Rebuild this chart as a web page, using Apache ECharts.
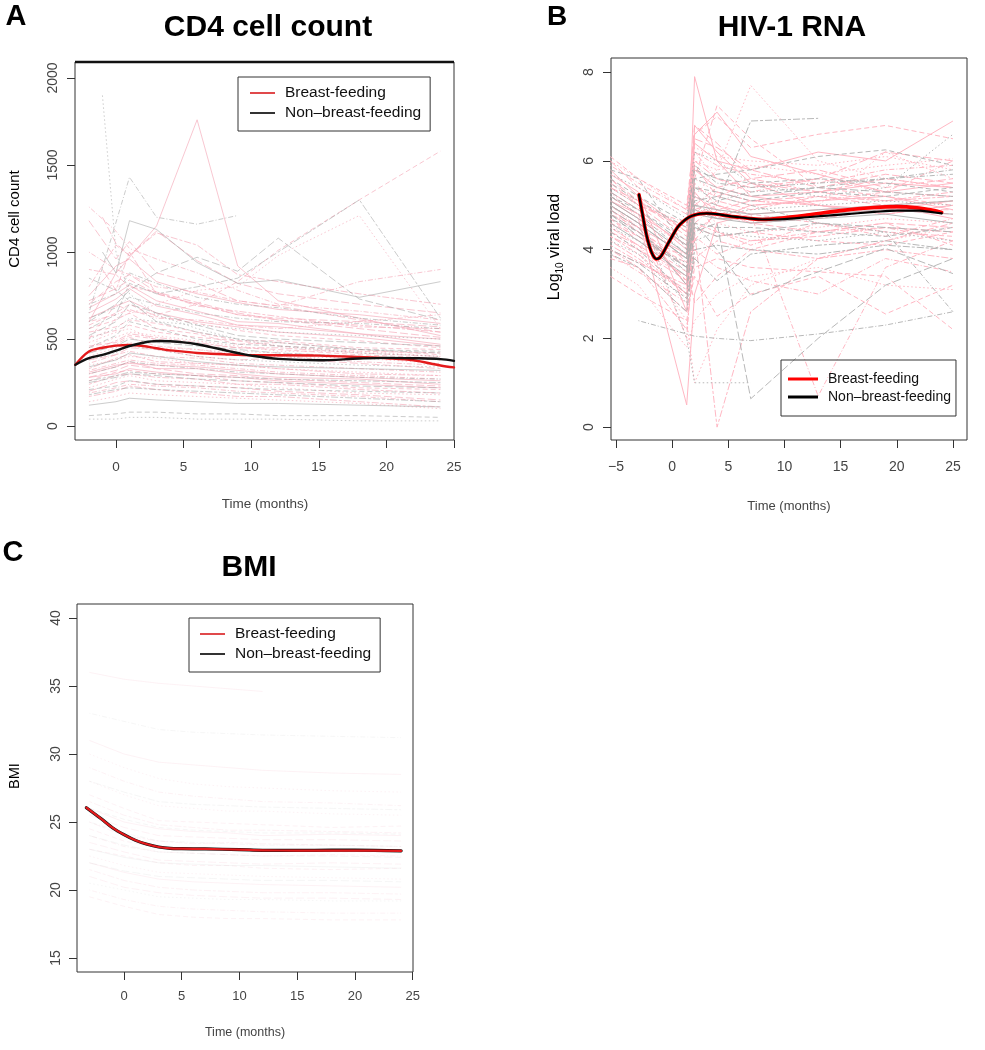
<!DOCTYPE html>
<html><head><meta charset="utf-8">
<script src="https://cdn.jsdelivr.net/npm/echarts@6/dist/echarts.min.js"></script>
<style>html,body{margin:0;padding:0;background:#fff}#c{width:985px;height:1050px}</style>
</head><body><div id="c"></div>
<script>
// ---------- Panel A: CD4 cell count ----------
const cd4Times = [-2, -1, 0, 1, 3, 6, 9, 12, 18, 24];
const cd4Bf = [
 [600,null,880,null,1150,1760,920,720,null,520],
 [500,null,700,660,640,700,830,1010,1300,1580],
 [430,null,620,null,700,780,800,980,1210,560],
 [1260,null,1120,1020,960,880,780,700,660,610],
 [1180,null,960,1060,880,820,720,690,610,540],
 [800,null,1040,980,1110,1040,870,830,760,700],
 [650,null,730,790,690,640,580,570,530,470],
 [560,null,610,650,560,530,470,480,440,410],
 [480,null,540,560,490,470,430,420,400,380],
 [420,null,470,510,460,440,410,400,370,350],
 [380,null,410,450,440,400,380,390,360,330],
 [330,null,390,410,370,360,350,330,300,290],
 [300,null,340,370,330,330,300,280,270,240],
 [260,null,310,320,300,290,260,250,220,210],
 [220,null,270,290,260,250,240,220,190,180],
 [190,null,220,240,230,220,200,190,170,140],
 [700,null,830,870,770,710,650,610,560,510],
 [900,null,870,800,770,690,660,630,570,560],
 [620,null,690,720,650,600,570,540,510,460],
 [540,null,570,610,590,540,490,490,450,440],
 [450,null,510,540,520,490,460,430,430,400],
 [360,null,410,430,400,390,360,350,330,310],
 [280,null,320,350,330,300,290,270,250,230],
 [240,null,290,300,280,270,240,240,210,190],
 [750,null,920,960,830,760,710,670,640,590],
 [580,null,650,700,630,590,550,520,490,450],
 [400,null,450,480,450,440,420,400,390,360],
 [320,null,360,380,360,350,330,310,290,270],
 [200,null,250,260,240,230,220,200,180,150],
 [170,null,200,230,210,190,170,170,140,110],
 [680,null,760,810,720,660,600,590,530,500],
 [510,null,550,580,540,510,490,460,430,420],
 [350,null,380,400,390,360,350,330,310,290],
 [1000,null,900,870,800,770,720,690,830,900],
 [null,1200,1050,980,1120,950,820,760,700,650],
 [null,900,780,1000,760,700,640,610,580,540],
 [280,null,300,330,310,290,280,260,240,220],
 [460,null,480,520,500,470,450,440,410,390],
 [140,null,170,190,180,170,160,150,130,100],
 [600,null,640,670,620,610,580,560,600,640],
 [720,null,790,840,760,700,640,620,600,570],
 [430,null,490,530,510,480,450,450,420,400],
 [310,null,350,360,350,340,320,300,280,260]
];
const cd4Nbf = [
 [null,1900,1000,760,640,560,500,460,420,400],
 [650,null,null,1430,1200,1160,1210,null,null,null],
 [600,null,700,780,880,970,890,1080,730,610],
 [560,null,640,820,760,800,850,1000,1300,620],
 [null,1000,880,1180,1130,940,820,840,740,830],
 [450,null,520,600,560,500,470,460,440,430],
 [380,null,420,460,440,400,380,370,350,340],
 [300,null,340,370,350,330,310,300,280,270],
 [250,null,280,300,290,270,260,250,230,220],
 [180,null,210,220,210,200,190,180,160,140],
 [120,null,140,160,150,140,130,130,120,110],
 [60,null,70,80,80,70,70,60,60,50],
 [40,null,40,50,50,40,40,40,30,30],
 [700,null,760,880,820,740,700,680,620,580],
 [520,null,600,700,650,580,520,500,480,460],
 [850,null,780,720,600,540,500,480,440,420],
 [340,null,380,420,400,370,350,340,330,320],
 [210,null,230,260,240,230,220,210,200,190],
 [500,null,560,620,600,580,560,540,520,500],
 [620,null,680,740,700,650,620,600,590,560],
 [420,null,460,500,480,460,440,420,400,380],
 [260,null,290,310,300,290,280,270,260,250]
];
const cd4MeanT   = [-3,-2,-1,0,1,2,3,4,5,6,7,8,9,10,12,15,18,20,22,24,25];
const cd4MeanBf  = [352,428,450,462,466,460,447,435,428,420,416,413,409,407,407,405,397,390,378,348,337];
const cd4MeanNbf = [352,390,409,433,460,479,489,487,481,470,454,437,420,405,386,378,388,392,390,385,375];
const cd4XTicks = [0,5,10,15,20,25];
const cd4YTicks = [0,500,1000,1500,2000];

// ---------- Panel B: HIV-1 RNA ----------
const hivTimes = [-5.5, -3, 1.3, 2, 4, 7, 13, 19, 25];
const hivBf = [
 [5.0,4.6,3.2,7.9,6.0,5.2,5.0,4.9,5.1],
 [4.8,4.4,3.8,5.6,7.25,6.5,5.4,5.2,5.0],
 [4.6,null,3.0,5.2,5.8,7.7,6.0,5.6,5.4],
 [5.2,4.8,2.0,4.6,5.0,4.8,0.7,3.6,4.2],
 [5.5,5.0,4.2,6.0,5.6,5.4,5.6,6.2,6.0],
 [4.2,3.8,3.0,4.4,4.8,4.6,4.7,4.9,4.8],
 [5.8,5.2,4.4,6.4,6.0,5.8,6.2,6.0,6.9],
 [3.8,3.6,2.6,3.4,2.5,3.0,3.4,2.55,3.2],
 [4.4,4.0,3.4,5.0,4.6,4.4,4.5,4.7,4.6],
 [5.0,4.5,3.6,5.4,5.2,5.0,5.1,5.3,5.2],
 [6.0,5.4,4.8,6.8,6.4,5.6,5.8,5.4,5.6],
 [4.0,3.6,2.2,3.8,4.2,4.0,3.8,4.0,3.8],
 [5.3,4.9,4.0,5.8,5.4,5.2,5.3,5.5,5.4],
 [4.7,4.2,3.5,4.8,5.0,4.8,4.6,4.4,4.3],
 [3.6,3.2,1.8,2.4,3.0,3.4,3.6,3.2,3.1],
 [5.6,5.0,4.6,6.2,5.9,5.7,5.5,5.8,5.9],
 [4.9,4.4,3.3,4.2,4.9,5.1,5.2,5.0,5.1],
 [4.3,3.9,3.0,4.6,4.4,4.2,4.3,4.5,4.4],
 [5.1,4.7,0.5,3.0,4.6,4.8,4.9,5.0,4.7],
 [6.1,5.6,5.0,6.6,7.0,6.3,6.6,6.8,6.5],
 [4.5,4.1,3.9,5.6,5.3,5.1,5.0,6.2,5.6],
 [3.9,3.5,2.8,4.0,3.6,3.3,3.0,3.8,3.5],
 [5.4,5.1,4.3,5.2,4.9,4.6,4.4,4.6,4.5],
 [4.1,null,3.1,5.0,5.4,5.6,5.3,5.1,5.2],
 [5.7,5.3,2.6,6.8,6.2,5.5,5.0,4.8,5.0],
 [4.6,4.3,3.6,2.8,3.4,4.0,4.4,4.6,4.1],
 [null,4.0,2.4,1.0,2.2,3.2,3.8,4.2,4.5],
 [5.9,5.5,4.9,6.2,5.6,5.3,5.6,5.3,6.0],
 [4.4,4.1,3.4,5.5,5.0,4.7,4.8,4.9,4.9],
 [5.2,4.8,3.7,4.4,0.0,2.6,3.8,4.2,4.6],
 [4.9,4.5,3.9,6.6,7.1,6.1,5.7,5.3,5.5],
 [3.4,3.0,2.4,3.6,3.8,3.6,3.5,3.4,2.2],
 [5.3,4.7,4.1,6.0,5.8,5.9,5.7,5.9,6.05],
 [4.8,4.5,3.2,5.1,4.4,4.1,4.6,4.3,4.7],
 [5.6,5.1,4.4,5.9,5.2,5.5,5.3,5.6,5.4],
 [4.3,4.0,3.3,4.9,5.1,4.9,5.2,5.1,5.3],
 [5.1,4.8,4.1,5.3,4.7,5.0,5.1,5.2,4.9],
 [4.7,4.3,3.7,4.5,4.3,4.4,4.2,4.1,4.4],
 [6.0,5.6,4.9,6.3,6.1,6.0,5.9,6.1,5.8],
 [4.5,4.1,2.9,4.3,3.9,4.2,4.4,4.5,4.2],
 [5.4,5.0,4.5,6.5,6.3,5.8,5.4,5.7,5.5],
 [4.0,3.7,3.2,4.8,5.3,5.1,5.0,4.8,5.0]
];
const hivNbf = [
 [5.8,5.6,4.0,5.6,5.7,5.8,6.1,6.25,5.9],
 [5.4,5.0,2.0,1.0,1.0,1.0,null,null,null],
 [null,2.4,2.1,2.05,2.0,1.95,2.1,2.3,2.6],
 [4.8,4.3,3.6,4.6,4.0,2.97,3.5,4.03,3.46],
 [5.0,4.6,3.8,5.2,5.0,6.9,6.96,null,null],
 [4.6,4.2,3.4,4.8,4.7,4.6,4.7,4.8,4.6],
 [5.2,4.9,4.2,5.4,5.3,5.1,5.3,5.2,5.4],
 [4.2,3.9,2.8,4.2,4.4,4.3,4.2,4.4,4.2],
 [5.5,5.1,4.5,5.9,5.5,5.4,5.5,5.6,5.7],
 [4.9,4.5,3.2,4.4,4.6,0.64,2.0,3.2,3.8],
 [3.9,3.6,2.6,4.0,4.1,4.0,3.9,4.1,4.0],
 [5.1,4.7,3.9,5.0,4.9,4.8,4.9,5.0,5.1],
 [4.4,4.0,3.0,4.6,4.5,4.5,4.4,4.3,4.5],
 [5.7,5.4,4.7,6.2,6.0,5.5,5.2,5.4,6.6],
 [4.7,4.4,3.5,5.1,5.2,5.0,4.6,4.4,2.6],
 [5.3,4.9,4.1,5.6,5.4,5.2,5.4,5.3,5.2],
 [4.0,3.7,2.9,3.8,3.3,3.9,4.1,4.2,4.0],
 [5.0,4.6,3.8,4.9,4.7,4.7,4.8,4.9,4.8],
 [5.6,5.2,4.6,5.8,5.6,5.5,5.6,5.5,5.3],
 [4.5,4.2,3.7,5.0,4.8,4.9,5.0,5.1,5.0],
 [5.2,4.8,3.9,5.4,5.1,5.3,5.4,5.6,5.8],
 [4.8,4.4,3.6,4.5,4.3,4.4,4.6,4.5,4.4]
];
const hivMeanT   = [-2.95,-2.6,-2.3,-2,-1.7,-1.4,-1.1,-0.8,-0.4,0,0.5,1,1.5,2,2.5,3.1,4,5,6,7,8,10,12,15,18,20,22,23,24];
const hivMeanBf  = [5.24,4.75,4.35,4.06,3.87,3.79,3.82,3.93,4.12,4.30,4.51,4.64,4.73,4.78,4.81,4.82,4.80,4.76,4.73,4.70,4.68,4.72,4.78,4.88,4.95,4.97,4.94,4.90,4.84];
const hivMeanNbf = [5.24,4.75,4.35,4.06,3.87,3.79,3.82,3.93,4.12,4.30,4.51,4.64,4.73,4.78,4.81,4.82,4.80,4.76,4.73,4.70,4.68,4.69,4.73,4.79,4.85,4.88,4.88,4.85,4.82];
const hivXTicks = [-5,0,5,10,15,20,25];
const hivYTicks = [0,2,4,6,8];

// ---------- Panel C: BMI ----------
const bmiTimes = [-3, 0, 3, 6, 9, 12, 18, 24];
const bmiBf = [
 [26,25,24.5,24.3,24.2,24.0,24.1,24.0],
 [23,22.5,22,21.8,21.8,21.6,21.5,21.6],
 [28,27,26.2,26,25.8,25.8,25.6,25.5],
 [24,23.2,22.8,22.7,22.6,22.5,22.6,22.5],
 [21,20.2,19.8,19.6,19.5,19.4,19.4,19.3],
 [25,24,23.6,23.4,23.5,23.4,23.3,23.2],
 [22,21.3,20.8,20.6,20.5,20.4,20.3,20.2],
 [27,26,25.1,25,24.9,24.8,24.6,24.7],
 [30,29,28.2,27.8,27.6,27.5,27.3,27.2],
 [20,19.3,18.8,18.6,18.5,18.4,18.3,18.3],
 [23.5,22.8,22.2,22.1,22.0,21.9,22.0,21.9],
 [26.5,25.5,24.8,24.6,24.4,24.4,24.3,24.2],
 [36,35.5,35.2,35,34.8,34.6,null,null],
 [24.5,23.6,23.1,23.0,22.9,22.9,22.8,22.8],
 [22.5,21.8,21.3,21.2,21.1,21.0,20.9,20.8],
 [29,28,27.2,26.9,26.7,26.5,26.4,26.2],
 [25.5,24.6,24.0,23.9,23.8,23.7,23.7,23.6],
 [21.5,20.7,20.2,20.0,19.9,19.8,19.8,19.7],
 [31,30,29.4,29.2,29.0,28.8,28.6,28.5],
 [19.5,18.8,18.2,18.0,17.9,17.9,17.8,17.8]
];
const bmiNbf = [
 [25,24.2,23.6,23.5,23.4,23.3,23.3,23.2],
 [22,21.4,21.0,20.9,20.8,20.7,20.7,20.6],
 [28,27.2,26.5,26.3,26.2,26.1,26.0,25.9],
 [23,22.4,22.0,21.9,21.8,21.8,21.7,21.6],
 [26,25.2,24.6,24.4,24.3,24.2,24.2,24.1],
 [20.5,20,19.5,19.4,19.3,19.3,19.2,19.2],
 [33,32.4,31.8,31.6,31.5,31.4,31.3,31.2],
 [24,23.3,22.8,22.7,22.6,22.5,22.5,22.4]
];
const bmiMeanT   = [-3.26,-2,-1,0,1,2,3,4,5,7,10,12,15,18,20,24];
const bmiMeanBf  = [26.05,25.25,24.58,24.07,23.65,23.36,23.16,23.06,23.04,23.02,22.97,22.92,22.90,22.90,22.90,22.87];
const bmiMeanNbf = [26.05,25.25,24.58,24.07,23.65,23.36,23.16,23.06,23.04,23.02,22.97,22.92,22.91,22.93,22.93,22.88];
const bmiXTicks = [0,5,10,15,20,25];
const bmiYTicks = [15,20,25,30,35,40];

const BF = 'Breast-feeding', NBF = 'Non\u2013breast-feeding';

// ---------- build ----------
const FONT = '"Liberation Sans", Arial, Helvetica, sans-serif';
const dashes = ['solid',[5,3],[1.5,2.5],[1,2,5,2],[8,3],[3,2,7,2]];
function pairs(times, vals){ const out=[]; vals.forEach((v,i)=>{ if(v!==null) out.push([times[i],v]); }); return out; }
const series = [];
function addSpaghetti(idx, times, groups, color, opacity, width, tag, off){
  groups.forEach((vals,k)=>{
    series.push({type:'line', name:tag, xAxisIndex:idx, yAxisIndex:idx, data:pairs(times, vals),
      showSymbol:false, symbol:'none', silent:true, animation:false, z:1,
      lineStyle:{color:color, opacity:opacity, width:width, type:dashes[(k+off)%dashes.length]}});
  });
}
function addMean(idx, t, v, name, color, width, z){
  series.push({type:'line', name:name, xAxisIndex:idx, yAxisIndex:idx, data:t.map((x,i)=>[x,v[i]]),
    smooth:0.35, showSymbol:false, symbol:'none', animation:false, z:z,
    lineStyle:{color:color, width:width, cap:'round', join:'round'}, itemStyle:{color:color}});
}
addSpaghetti(0, cd4Times, cd4Bf, '#f4a9b8', 0.65, 1, 'bf-ind-a', 0);
addSpaghetti(0, cd4Times, cd4Nbf, '#9a9a9a', 0.5, 1, 'nbf-ind-a', 2);
addMean(0, cd4MeanT, cd4MeanBf, BF, '#e41a1c', 2.4, 5);
addMean(0, cd4MeanT, cd4MeanNbf, NBF, '#111111', 2.4, 6);

addSpaghetti(1, hivTimes, hivBf, '#ffb3c0', 0.95, 1, 'bf-ind-b', 0);
addSpaghetti(1, hivTimes, hivNbf, '#b0b0b0', 0.9, 1, 'nbf-ind-b', 1);
addMean(1, hivMeanT, hivMeanBf, BF, '#ff0000', 3.6, 5);
addMean(1, hivMeanT, hivMeanNbf, NBF, '#000000', 2.2, 6);

addSpaghetti(2, bmiTimes, bmiBf, '#f2b8c6', 0.18, 1, 'bf-ind-c', 0);
addSpaghetti(2, bmiTimes, bmiNbf, '#c0c0c0', 0.15, 1, 'nbf-ind-c', 3);
addMean(2, bmiMeanT, bmiMeanNbf, NBF, '#111111', 3.2, 5);
addMean(2, bmiMeanT, bmiMeanBf, BF, '#e41a1c', 2.2, 6);

function minusFmt(v){ return v < 0 ? '\u2212' + Math.abs(v) : String(v); }
function xAx(idx, min, max, ticks, fs, margin){
  return {type:'value', gridIndex:idx, min:min, max:max, axisLine:{show:false, onZero:false}, splitLine:{show:false},
    axisTick:{show:true, length:8, customValues:ticks, lineStyle:{color:'#333', width:1}},
    axisLabel:{customValues:ticks, fontSize:fs, color:'#444', margin:margin, fontFamily:FONT, formatter:minusFmt}};
}
function yAx(idx, min, max, ticks, fs, margin){
  return {type:'value', gridIndex:idx, min:min, max:max, axisLine:{show:false, onZero:false}, splitLine:{show:false},
    axisTick:{show:true, length:8, customValues:ticks, lineStyle:{color:'#333', width:1}},
    axisLabel:{customValues:ticks, fontSize:fs, color:'#444', margin:margin, rotate:90, fontFamily:FONT, formatter:function(v){return String(v);}}};
}
function legendCfg(left, top, pad, iw, ih, fs, lh, gap, redC, blackC){
  return {left:left, top:top, orient:'vertical', icon:'rect', itemWidth:iw, itemHeight:ih, itemGap:gap,
    padding:pad, borderColor:'#333', borderWidth:1, selectedMode:false,
    data:[{name:BF, itemStyle:{color:redC}}, {name:NBF, itemStyle:{color:blackC}}],
    textStyle:{fontSize:fs, color:'#111', lineHeight:lh, fontFamily:FONT, padding:[0,0,0,5]}};
}
function txt(x, y, text, size, weight, color, rot){
  return {type:'text', x:x, y:y, rotation:rot||0, silent:true,
    style:{text:text, fontSize:size, fontWeight:weight, fontFamily:FONT, fill:color,
      align:'center', verticalAlign:'middle', textAlign:'center', textVerticalAlign:'middle'}};
}

const option = {
  backgroundColor:'#ffffff',
  animation:false,
  grid:[
    {left:75, top:62, width:379, height:378, show:true, borderColor:'#333', borderWidth:1, backgroundColor:'transparent'},
    {left:611, top:58, width:356, height:382, show:true, borderColor:'#333', borderWidth:1, backgroundColor:'transparent'},
    {left:77, top:604, width:336, height:368, show:true, borderColor:'#333', borderWidth:1, backgroundColor:'transparent'}
  ],
  xAxis:[
    xAx(0, -3.03, 25.0, cd4XTicks, 13.5, 20),
    xAx(1, -5.44, 26.25, hivXTicks, 14, 20),
    xAx(2, -4.07, 25.03, bmiXTicks, 13, 18)
  ],
  yAxis:[
    yAx(0, -80, 2092, cd4YTicks, 14, 15),
    yAx(1, -0.29, 8.32, hivYTicks, 14, 15),
    yAx(2, 13.97, 41.03, bmiYTicks, 14, 14)
  ],
  legend:[
    legendCfg(238, 77, [7,9,9,12], 25, 2, 15.5, 18, 2, '#e0494b', '#333333'),
    legendCfg(781, 360, [11,5,11,7], 30, 3, 14, 16, 2, '#ff0000', '#000000'),
    legendCfg(189, 618, [7,9,9,11], 25, 2, 15.5, 18, 2, '#e0494b', '#333333')
  ],
  graphic:[
    {type:'line', silent:true, shape:{x1:75, y1:62, x2:454, y2:62}, style:{stroke:'#111', lineWidth:2.5}},
    txt(16, 17, 'A', 29, 'bold', '#000'),
    txt(268, 28, 'CD4 cell count', 30, 'bold', '#000'),
    txt(15, 219, 'CD4 cell count', 15, 'normal', '#000', Math.PI/2),
    txt(265, 504, 'Time (months)', 13.5, 'normal', '#444'),
    txt(557, 17, 'B', 28, 'bold', '#000'),
    txt(792, 28, 'HIV-1 RNA', 30, 'bold', '#000'),
    {type:'text', x:555, y:247, rotation:Math.PI/2, silent:true,
      style:{text:'{a|Log}{b|10}{a| viral load}', fontFamily:FONT, fill:'#000',
        align:'center', verticalAlign:'middle', textAlign:'center', textVerticalAlign:'middle',
        rich:{a:{fontSize:16, lineHeight:20, fontFamily:FONT, fill:'#000'}, b:{fontSize:10, lineHeight:10, verticalAlign:'bottom', fontFamily:FONT, fill:'#000'}}}},
    txt(789, 506, 'Time (months)', 13, 'normal', '#444'),
    txt(13, 553, 'C', 29, 'bold', '#000'),
    txt(249, 568, 'BMI', 30, 'bold', '#000'),
    txt(15, 776, 'BMI', 14.5, 'normal', '#000', Math.PI/2),
    txt(245, 1033, 'Time (months)', 12.5, 'normal', '#444')
  ],
  series:series
};
const chart = echarts.init(document.getElementById('c'));
chart.setOption(option);
</script>
</body></html>
